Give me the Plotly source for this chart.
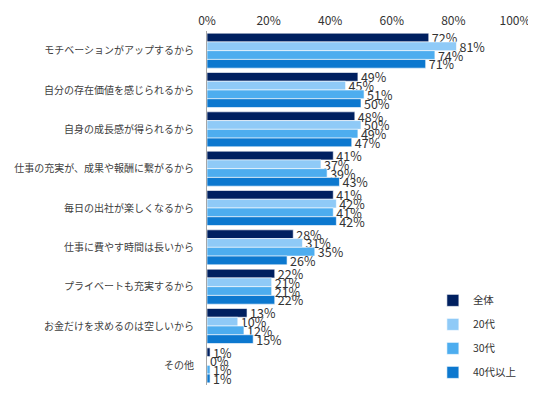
import plotly.graph_objects as go

categories = [
    "モチベーションがアップするから",
    "自分の存在価値を感じられるから",
    "自身の成長感が得られるから",
    "仕事の充実が、成果や報酬に繋がるから",
    "毎日の出社が楽しくなるから",
    "仕事に費やす時間は長いから",
    "プライベートも充実するから",
    "お金だけを求めるのは空しいから",
    "その他",
]
series_names = ["全体", "20代", "30代", "40代以上"]
v_all = [72, 49, 48, 41, 41, 28, 22, 13, 1]
v_20 = [81, 45, 50, 37, 42, 31, 21, 10, 0]
v_30 = [74, 51, 49, 39, 41, 35, 21, 12, 1]
v_40 = [71, 50, 47, 43, 42, 26, 22, 15, 1]
values = [v_all, v_20, v_30, v_40]
colors = ["#002060", "#8FCAF7", "#4DADEF", "#0C78CF"]
tick_vals = [0, 20, 40, 60, 80, 100]

font_family = "Noto Sans CJK JP, Noto Sans, sans-serif"

fig = go.Figure()
for name, vals, col in zip(series_names, values, colors):
    fig.add_trace(go.Bar(
        y=categories, x=vals, name=name, orientation="h",
        marker=dict(color=col, line=dict(color="white", width=0.6)),
        text=[f"{v}%" for v in vals], textposition="outside",
        constraintext="none", cliponaxis=False,
        textfont=dict(size=12.5, color="#333333", family=font_family),
        legendgroup=name,
    ))

fig.update_layout(
    width=528, height=387,
    barmode="group", bargap=0.11, bargroupgap=0,
    margin=dict(l=199, r=4, t=23, b=10, autoexpand=False),
    plot_bgcolor="white", paper_bgcolor="white",
    font=dict(family=font_family, color="#404040"),
    showlegend=True,
    legend=dict(x=0.695, y=0.28, xanchor="left", yanchor="top",
                bgcolor="rgba(0,0,0,0)", font=dict(size=10.5, color="#333333"),
                tracegroupgap=5, itemwidth=30),
    xaxis=dict(side="top", range=[0, 100], tickvals=tick_vals, domain=[0, 0.9477],
               ticktext=[f"{t}%" for t in tick_vals], showgrid=False,
               zeroline=False, showline=False, ticks="", automargin=False,
               tickfont=dict(size=12, color="#333333"), ticklabelstandoff=3),
    yaxis=dict(autorange="reversed", showline=True, linecolor="#A6A6A6",
               linewidth=1, ticks="", showgrid=False, automargin=False,
               tickfont=dict(size=10, color="#404040"),
               ticklabelstandoff=10),
)

fig.write_html("out.html")
